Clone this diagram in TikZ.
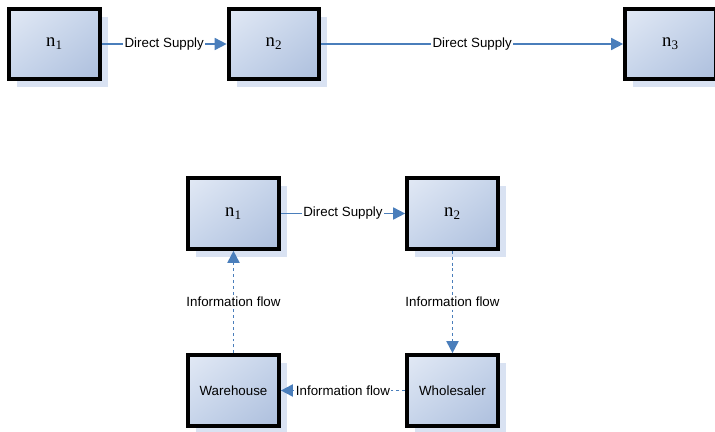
\documentclass[tikz,border=0pt]{standalone}
\usepackage{fontspec}
\setmainfont{Liberation Serif}
\setsansfont{Liberation Sans}
\usetikzlibrary{arrows.meta,shadows,shadings}

\definecolor{linkblue}{HTML}{4A7EBB}
\definecolor{boxlight}{HTML}{E2E9F5}
\definecolor{boxmid}{HTML}{C6D4EA}
\definecolor{boxdark}{HTML}{ADBFDD}
\definecolor{boxshadow}{HTML}{D9E2F2}

\tikzset{
  actor/.style={draw=black, line width=3pt, minimum width=68pt, minimum height=53pt,
    upper left=boxlight, upper right=boxmid, lower left=boxmid, lower right=boxdark,
    general shadow={fill=boxshadow, shadow xshift=6pt, shadow yshift=-6pt},
    font=\fontsize{14}{16}\selectfont},
  supply/.style={draw=linkblue, line width=1.3pt, ->},
  info/.style={draw=linkblue, line width=1.4pt, dash pattern=on 2.2pt off 2.2pt, ->},
  lbl/.style={fill=white, inner sep=1pt, font=\sffamily\fontsize{10}{12}\selectfont},
}

\begin{document}
\begin{tikzpicture}[x=0.75pt, y=-0.75pt, >={Triangle[length=9pt,width=9pt]}]
\useasboundingbox (0,0) rectangle (715,432);

% upper chain
\node[actor] (a1) at (54.5,44) {n\textsubscript{1}};
\node[actor] (a2) at (274,44) {n\textsubscript{2}};
\node[actor] (a3) at (670.5,44) {n\textsubscript{3}};
\draw[supply] (a1) -- node[lbl]{Direct Supply} (a2);
\draw[supply] (a2) -- node[lbl]{Direct Supply} (a3);

% lower loop
\node[actor] (b1) at (233.5,213.5) {n\textsubscript{1}};
\node[actor] (b2) at (452.5,213.5) {n\textsubscript{2}};
\node[actor, font=\sffamily\fontsize{10}{12}\selectfont] (wh) at (233.5,390.5) {Warehouse};
\node[actor, font=\sffamily\fontsize{10}{12}\selectfont] (ws) at (452.5,390.5) {Wholesaler};
\draw[supply] (b1) -- node[lbl]{Direct Supply} (b2);
\draw[info] (b2) -- node[lbl]{Information flow} (ws);
\draw[info] (ws) -- node[lbl]{Information flow} (wh);
\draw[info] (wh) -- node[lbl]{Information flow} (b1);
\end{tikzpicture}
\end{document}
